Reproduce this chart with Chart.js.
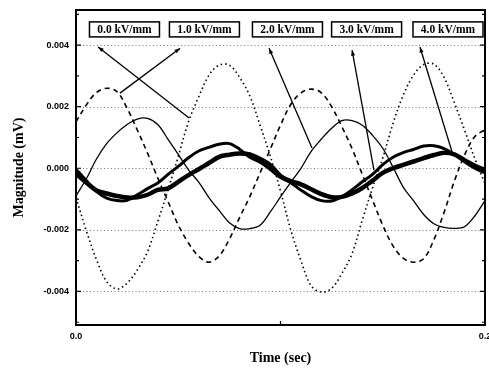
<!DOCTYPE html>
<html>
<head>
<meta charset="utf-8">
<script src="https://cdn.jsdelivr.net/npm/chart.js@4.4.0/dist/chart.umd.min.js"></script>
<style>
  html, body { margin: 0; padding: 0; background: #ffffff; }
</style>
</head>
<body>
<canvas id="grafico" width="489" height="369"></canvas>
<script>
const tiempos = [
  0, 0.005, 0.01, 0.015, 0.02, 0.025, 0.03, 0.035, 0.04, 0.045,
  0.05, 0.055, 0.06, 0.065, 0.07, 0.075, 0.08, 0.085, 0.09, 0.095,
  0.1, 0.105, 0.11, 0.115, 0.12, 0.125, 0.13, 0.135, 0.14, 0.145,
  0.15, 0.155, 0.16, 0.165, 0.17, 0.175, 0.18, 0.185, 0.19, 0.195, 0.2,
];

// 0.0 kV/mm (punteada)
const campo0 = [
  -0.00095, -0.00202, -0.00297, -0.00368, -0.00392, -0.00373, -0.0033, -0.0027, -0.00173, -0.0007,
  0.00038, 0.00151, 0.00232, 0.00302, 0.00335, 0.00335, 0.00295, 0.00235, 0.0014, 0.0004,
  -0.00074, -0.002, -0.003, -0.00382, -0.00402, -0.0039, -0.00342, -0.00277, -0.00168, -0.00064,
  0.00033, 0.00145, 0.00237, 0.00302, 0.00337, 0.00338, 0.00295, 0.00213, 0.00124, 0.00032, -0.0005,
];

// 1.0 kV/mm (discontinua)
const campo1 = [
  0.00151, 0.00205, 0.00246, 0.0026, 0.00249, 0.00195, 0.00124, 0.00049, -0.00032, -0.00108,
  -0.00184, -0.00243, -0.00286, -0.00305, -0.00285, -0.0023, -0.0016, -0.00092, -0.00015, 0.00062,
  0.0014, 0.00207, 0.00245, 0.00257, 0.00245, 0.002, 0.00135, 0.00064, -0.0002, -0.00103,
  -0.00185, -0.00252, -0.00292, -0.00305, -0.00294, -0.00232, -0.00143, -0.00042, 0.00043, 0.00103, 0.00125,
];

// 2.0 kV/mm (linea fina)
const campo2 = [
  -0.0009, -0.00035, 0.0003, 0.0008, 0.00115, 0.00142, 0.0016, 0.00162, 0.00142, 0.00094,
  0.00045, -0.00005, -0.00045, -0.00095, -0.00137, -0.00177, -0.00196, -0.00196, -0.00185, -0.00142,
  -0.00093, -0.00046, 0, 0.00055, 0.00095, 0.0013, 0.00155, 0.00155, 0.0014, 0.00107,
  0.00065, 0.00004, -0.00061, -0.00105, -0.0015, -0.0018, -0.00192, -0.00195, -0.0019, -0.00155, -0.00105,
];

// 3.0 kV/mm (gruesa)
const campo3 = [
  -0.00003, -0.0004, -0.00075, -0.00097, -0.00105, -0.00104, -0.00086, -0.00066, -0.00048, -0.0002,
  0.00006, 0.00034, 0.00056, 0.00068, 0.00078, 0.0008, 0.00062, 0.00036, 0.0002, -0.00004,
  -0.0003, -0.00047, -0.00071, -0.00092, -0.00105, -0.00106, -0.00092, -0.0007, -0.00044, -0.0002,
  0.00012, 0.00036, 0.00051, 0.00061, 0.00072, 0.00073, 0.00064, 0.00045, 0.00021, 0, -0.00015,
];

// 4.0 kV/mm (mas gruesa)
const campo4 = [
  -0.00018, -0.00046, -0.00072, -0.00082, -0.0009, -0.00095, -0.00094, -0.00086, -0.0007, -0.00065,
  -0.00044, -0.00022, -0.00003, 0.00017, 0.00037, 0.00044, 0.00048, 0.00045, 0.0003, 0.0001,
  -0.00025, -0.00042, -0.00052, -0.00068, -0.00084, -0.00094, -0.00093, -0.00082, -0.00064, -0.0004,
  -0.00015, 0, 0.00011, 0.00022, 0.00033, 0.00043, 0.0005, 0.00045, 0.00026, 0.00008, -0.00005,
];

const ticksX = [0, 0.2];
const ticksY = [-0.004, -0.002, 0, 0.002, 0.004];
const ticksYMenores = [-0.005, -0.003, -0.001, 0.001, 0.003, 0.005];

const etiquetas = ["0.0 kV/mm", "1.0 kV/mm", "2.0 kV/mm", "3.0 kV/mm", "4.0 kV/mm"];
const cajasT = [0.0237, 0.0628, 0.1034, 0.1421, 0.1819];
const cajaV = 0.00451;
const flechasInicio = [[0.0108, 0.00394], [0.0509, 0.0039], [0.0944, 0.0039], [0.135, 0.00384], [0.1682, 0.00394]];
const flechasFin = [[0.0553, 0.00163], [0.0215, 0.00244], [0.1154, 0.00066], [0.1457, -0.00006], [0.1839, 0.00053]];

const FUENTE_TICKS = { family: "Liberation Sans", size: 9, weight: "bold" };
const FUENTE_TITULO = { family: "Liberation Serif", size: 14, weight: "bold", lineHeight: 1.2 };

const aPuntos = (serie) => tiempos.map((t, i) => ({ x: t, y: serie[i] }));

const serie = (datos, ancho, guiones) => ({
  data: aPuntos(datos),
  borderColor: "#000000",
  borderWidth: ancho,
  borderDash: guiones,
  pointRadius: 0,
  tension: 0.35,
  fill: false,
});

const plugMarco = {
  id: "plugMarco",
  beforeDatasetsDraw(chart) {
    const { ctx, chartArea: a, scales: { y } } = chart;
    ctx.save();
    ctx.strokeStyle = "#555555";
    ctx.lineWidth = 0.8;
    ctx.setLineDash([1, 2.5]);
    ticksY.forEach((v) => {
      const py = Math.round(y.getPixelForValue(v)) + 0.5;
      ctx.beginPath();
      ctx.moveTo(a.left, py);
      ctx.lineTo(a.right, py);
      ctx.stroke();
    });
    ctx.restore();
  },
  afterDatasetsDraw(chart) {
    const { ctx, chartArea: a, scales: { x, y } } = chart;
    ctx.save();
    ctx.strokeStyle = "#000000";
    ctx.fillStyle = "#000000";

    // marco
    ctx.lineWidth = 2;
    ctx.strokeRect(a.left, a.top, a.right - a.left, a.bottom - a.top);

    // marcas hacia dentro
    ctx.lineWidth = 1.2;
    const marca = (v, largo) => {
      const py = y.getPixelForValue(v);
      ctx.beginPath();
      ctx.moveTo(a.left, py);
      ctx.lineTo(a.left + largo, py);
      ctx.moveTo(a.right, py);
      ctx.lineTo(a.right - largo, py);
      ctx.stroke();
    };
    ticksY.forEach((v) => marca(v, 5));
    ticksYMenores.forEach((v) => marca(v, 3));
    const px = x.getPixelForValue(0.1);
    ctx.beginPath();
    ctx.moveTo(px, a.bottom);
    ctx.lineTo(px, a.bottom - 4);
    ctx.stroke();

    // flechas
    ctx.lineWidth = 1.3;
    flechasInicio.forEach((ini, i) => {
      const x0 = x.getPixelForValue(ini[0]);
      const y0 = y.getPixelForValue(ini[1]);
      const x1 = x.getPixelForValue(flechasFin[i][0]);
      const y1 = y.getPixelForValue(flechasFin[i][1]);
      ctx.beginPath();
      ctx.moveTo(x0, y0);
      ctx.lineTo(x1, y1);
      ctx.stroke();
      const ang = Math.atan2(y0 - y1, x0 - x1);
      ctx.beginPath();
      ctx.moveTo(x0, y0);
      ctx.lineTo(x0 - 6 * Math.cos(ang - 0.35), y0 - 6 * Math.sin(ang - 0.35));
      ctx.lineTo(x0 - 6 * Math.cos(ang + 0.35), y0 - 6 * Math.sin(ang + 0.35));
      ctx.closePath();
      ctx.fill();
    });

    // cajas de etiquetas
    ctx.font = "bold 11.5px 'Liberation Serif'";
    ctx.textAlign = "center";
    ctx.textBaseline = "middle";
    etiquetas.forEach((texto, i) => {
      const cx = x.getPixelForValue(cajasT[i]);
      const cy = y.getPixelForValue(cajaV);
      const w = 70;
      const h = 15;
      ctx.fillStyle = "#ffffff";
      ctx.fillRect(cx - w / 2, cy - h / 2, w, h);
      ctx.lineWidth = 1.5;
      ctx.strokeRect(cx - w / 2, cy - h / 2, w, h);
      ctx.fillStyle = "#000000";
      ctx.fillText(texto, cx, cy + 1);
    });
    ctx.restore();
  },
};

new Chart(document.getElementById("grafico"), {
  type: "line",
  data: {
    datasets: [
      serie(campo0, 1.6, [1.5, 3]),
      serie(campo1, 1.6, [5, 4]),
      serie(campo2, 1.3, []),
      serie(campo3, 3, []),
      serie(campo4, 4.5, []),
    ],
  },
  options: {
    responsive: false,
    devicePixelRatio: 1,
    animation: false,
    layout: { padding: { top: 10, right: 4, left: 0, bottom: 0 } },
    plugins: {
      legend: { display: false },
      tooltip: { enabled: false },
    },
    scales: {
      x: {
        type: "linear",
        min: 0,
        max: 0.2,
        afterBuildTicks: (s) => {
          s.ticks = ticksX.map((v) => ({ value: v }));
        },
        afterFit: (s) => {
          s.height = 44;
          s.paddingLeft = 0;
          s.paddingRight = 0;
        },
        grid: { display: false, drawTicks: false },
        border: { display: false },
        ticks: {
          color: "#000000",
          font: FUENTE_TICKS,
          padding: 6,
          maxRotation: 0,
          autoSkip: false,
          callback: (v) => Number(v).toFixed(1),
        },
        title: {
          display: true,
          text: "Time (sec)",
          color: "#000000",
          font: FUENTE_TITULO,
          padding: { top: 0, bottom: 2 },
        },
      },
      y: {
        min: -0.00509,
        max: 0.00514,
        afterBuildTicks: (s) => {
          s.ticks = ticksY.map((v) => ({ value: v }));
        },
        afterFit: (s) => {
          s.width = 76;
          s.paddingTop = 0;
          s.paddingBottom = 0;
        },
        grid: { display: false, drawTicks: false },
        border: { display: false },
        ticks: {
          color: "#000000",
          font: FUENTE_TICKS,
          padding: 7,
          autoSkip: false,
          callback: (v) => Number(v).toFixed(3),
        },
        title: {
          display: true,
          text: "Magnitude (mV)",
          color: "#000000",
          font: FUENTE_TITULO,
          padding: { top: 11, bottom: 0 },
        },
      },
    },
  },
  plugins: [plugMarco],
});
</script>
</body>
</html>
